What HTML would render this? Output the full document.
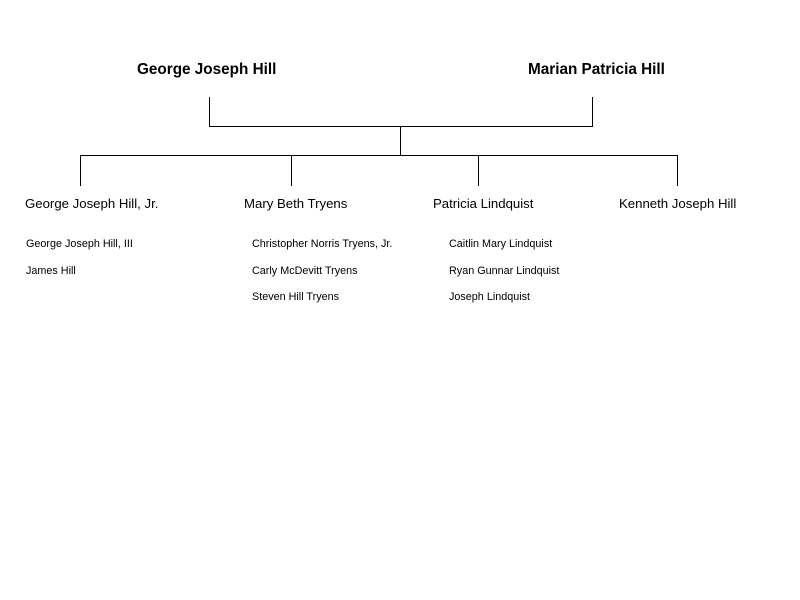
<!DOCTYPE html>
<html><head><meta charset="utf-8"><style>
body{margin:0;width:800px;height:600px;background:#fff;position:relative;font-family:"Liberation Sans",Arial,sans-serif;color:#000;overflow:hidden}
.t{position:absolute;white-space:nowrap;line-height:1}
.b{font-weight:bold;font-size:15.3px}
.c{font-size:13.2px}
.g{font-size:10.8px}
</style></head><body>
<svg width="800" height="600" style="position:absolute;left:0;top:0" stroke="#000" stroke-width="1" fill="none">
<path d="M209.5 97V126.5H592.5V97"/>
<path d="M400.5 126V155.5"/>
<path d="M80.5 186V155.5H677.5V186"/>
<path d="M291.5 155V186M478.5 155V186"/>
</svg>
<div class="t b" style="left:137px;top:62px">George Joseph Hill</div>
<div class="t b" style="left:528px;top:62px">Marian Patricia Hill</div>
<div class="t c" style="left:25px;top:197px">George Joseph Hill, Jr.</div>
<div class="t c" style="left:244px;top:197px">Mary Beth Tryens</div>
<div class="t c" style="left:433px;top:197px">Patricia Lindquist</div>
<div class="t c" style="left:619px;top:197px">Kenneth Joseph Hill</div>
<div class="t g" style="left:26px;top:239px">George Joseph Hill, III</div>
<div class="t g" style="left:26px;top:266px">James Hill</div>
<div class="t g" style="left:252px;top:239px">Christopher Norris Tryens, Jr.</div>
<div class="t g" style="left:252px;top:266px">Carly McDevitt Tryens</div>
<div class="t g" style="left:252px;top:292px">Steven Hill Tryens</div>
<div class="t g" style="left:449px;top:239px">Caitlin Mary Lindquist</div>
<div class="t g" style="left:449px;top:266px">Ryan Gunnar Lindquist</div>
<div class="t g" style="left:449px;top:292px">Joseph Lindquist</div>
</body></html>
